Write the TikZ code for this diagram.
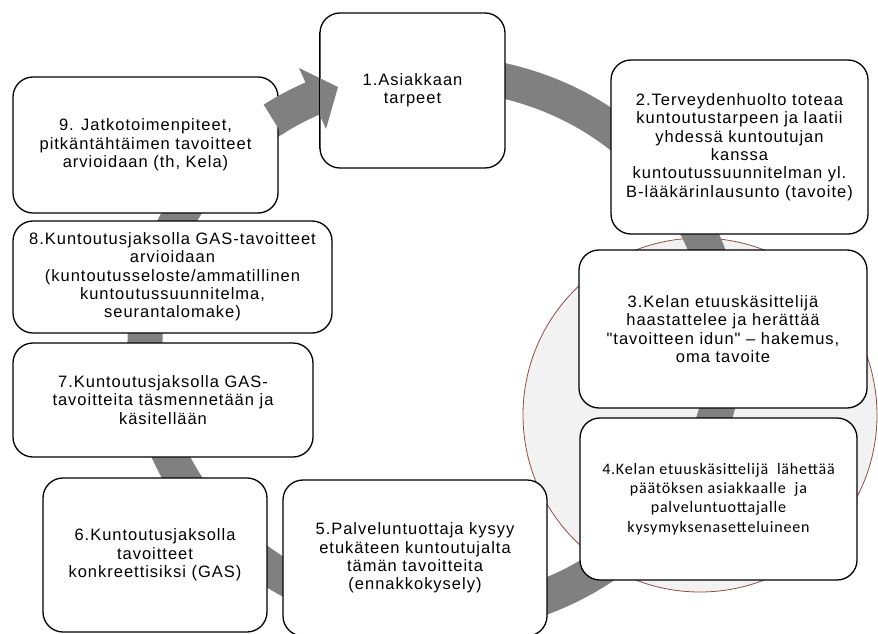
\documentclass[tikz,border=0pt]{standalone}
\usepackage{fontspec}
\setmainfont{Liberation Sans}
\newfontfamily\boxfont[LetterSpace=6]{Liberation Sans}
\newfontfamily\kelafont[LetterSpace=5]{Carlito}
\definecolor{bandgray}{HTML}{808080}
\definecolor{ringfill}{HTML}{F2F2F2}
\definecolor{ringline}{HTML}{8E4F44}

\begin{document}
\begin{tikzpicture}[x=1pt,y=-1pt,
	box/.style={draw,rounded corners=20pt,fill=white,line width=1.3pt,align=center,inner sep=2pt,
		font=\boxfont\fontsize{16.5}{18.3}\selectfont},
	smallbox/.style={box,font=\kelafont\fontsize{16}{19.2}\selectfont},
	band/.style={draw=bandgray,line width=35pt}]
	\useasboundingbox (0,0) rectangle (878,634);

	\draw [draw=ringline,fill=ringfill,line width=0.8pt] (700,415) circle [radius=177];

	\draw [band] (435,345) ++(280.5:290 and 272) arc [start angle=280.5,end angle=597,x radius=290,y radius=272];

	\node (b1) at (412.5,90.5) [box,minimum width=185pt,minimum height=155pt] {1.Asiakkaan\\tarpeet};
	\node (b2) at (739.5,147) [box,minimum width=257pt,minimum height=174pt] {2.Terveydenhuolto toteaa\\kuntoutustarpeen ja laatii\\yhdessä kuntoutujan\\kanssa\\kuntoutussuunnitelman yl.\\B-lääkärinlausunto (tavoite)};
	\node (b3) at (723,329) [box,minimum width=288pt,minimum height=158pt] {3.Kelan etuuskäsittelijä\\haastattelee ja herättää\\"tavoitteen idun" – hakemus,\\oma tavoite};
	\node (b4) at (718.5,499) [smallbox,minimum width=277pt,minimum height=162pt] {4.Kelan etuuskäsittelijä\ \ lähettää\\päätöksen asiakkaalle\ \ ja\\palveluntuottajalle\\kysymyksenasetteluineen};
	\node (b5) at (415,558) [box,minimum width=264pt,minimum height=156pt] {5.Palveluntuottaja kysyy\\etukäteen kuntoutujalta\\tämän tavoitteita\\(ennakkokysely)};
	\node (b6) at (155,555) [box,minimum width=224pt,minimum height=154pt] {6.Kuntoutusjaksolla\\tavoitteet\\konkreettisiksi (GAS)};
	\node (b7) at (163,400) [box,minimum width=300pt,minimum height=114pt] {7.Kuntoutusjaksolla GAS-\\tavoitteita täsmennetään ja\\käsitellään};
	\node (b8) at (172.5,277) [box,minimum width=319pt,minimum height=112pt] {8.Kuntoutusjaksolla GAS-tavoitteet\\arvioidaan\\(kuntoutusseloste/ammatillinen\\kuntoutussuunnitelma,\\seurantalomake)};
	\node (b9) at (145.5,145) [box,minimum width=265pt,minimum height=136pt] {9. Jatkotoimenpiteet,\\pitkäntähtäimen tavoitteet\\arvioidaan (th, Kela)};

	\coordinate (head1) at (299,68);
	\coordinate (head2) at (326,129);
	\coordinate (tip) at (338,87);
	\draw [band] (435,345) ++(596:290 and 272) arc [start angle=596,end angle=605.5,x radius=290,y radius=272];
	\fill [bandgray] (head1) -- (tip) -- (head2) -- cycle;
	\draw [line width=1.3pt] ([yshift=-20pt]b1.north west) -- ([yshift=20pt]b1.south west);
\end{tikzpicture}
\end{document}
